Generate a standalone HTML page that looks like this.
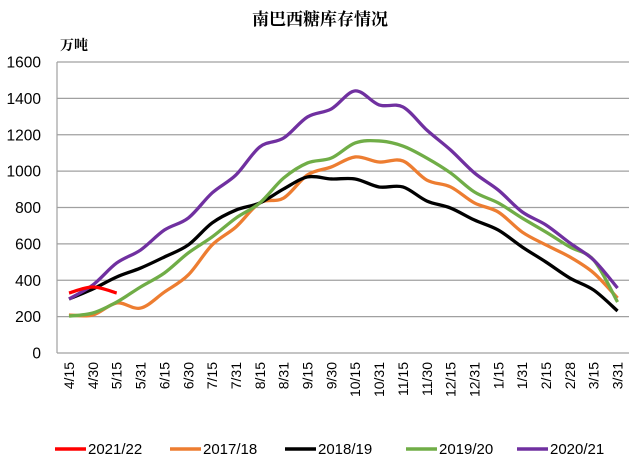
<!DOCTYPE html>
<html><head><meta charset="utf-8"><style>
body{margin:0;background:#fff;}
svg{display:block;font-family:"Liberation Sans","Noto Sans CJK SC",sans-serif;}
</style></head><body>
<svg id="s" width="640" height="466" viewBox="0 0 640 466">
<text x="320" y="25" text-anchor="middle" font-size="17" font-weight="bold" font-family="'Noto Serif CJK SC','Noto Sans CJK SC',serif">南巴西糖库存情况</text>
<text x="60" y="50" font-size="14" font-weight="bold" font-family="'Noto Serif CJK SC','Noto Sans CJK SC',serif">万吨</text>
<g id="g"></g>
</svg>
<script>
var g=document.getElementById('g'),h='';
var L=57,R=629,T=62,B=353;
function Y(v){return B-(v/1600)*(B-T);}
function X(i){return 69+i*23.85;}
for(var k=0;k<=8;k++){var y=Y(k*200);
 h+='<line x1="'+L+'" x2="'+R+'" y1="'+y+'" y2="'+y+'" stroke="#a0a0a0" stroke-width="1.2"/>';
 h+='<text x="41" y="'+(y+5.5)+'" text-anchor="end" font-size="15.5">'+(k*200)+'</text>';}
h+='<line x1="'+L+'" x2="'+L+'" y1="'+T+'" y2="'+B+'" stroke="#a0a0a0" stroke-width="1.2"/>';
var lab=["4/15","4/30","5/15","5/31","6/15","6/30","7/15","7/31","8/15","8/31","9/15","9/30","10/15","10/31","11/15","11/30","12/15","12/31","1/15","1/31","2/15","2/28","3/15","3/31"];
lab.forEach(function(t,i){var x=X(i)+5;h+='<text transform="translate('+x+',362) rotate(-90)" text-anchor="end" font-size="14">'+t+'</text>';});
function path(d){var p=d.map(function(v,i){return [X(i),Y(v)];});var s='M'+p[0][0]+','+p[0][1];
 for(var i=0;i<p.length-1;i++){var p0=p[i-1]||p[i],p1=p[i],p2=p[i+1],p3=p[i+2]||p2;
  s+=' C'+(p1[0]+(p2[0]-p0[0])/6)+','+(p1[1]+(p2[1]-p0[1])/6)+' '+(p2[0]-(p3[0]-p1[0])/6)+','+(p2[1]-(p3[1]-p1[1])/6)+' '+p2[0]+','+p2[1];}
 return s;}
var S=[
["#ed7d31",[209,209,275,247,335,429,594,693,825,852,979,1023,1078,1050,1056,951,913,825,775,665,594,528,440,302]],
["#000",[297,352,418,467,528,594,715,786,825,902,968,957,957,913,913,836,797,731,676,583,500,412,346,231]],
["#70ad47",[203,220,280,363,440,550,638,742,825,962,1045,1072,1155,1166,1138,1072,990,885,825,742,665,583,511,280]],
["#7030a0",[297,374,495,566,676,742,880,979,1133,1182,1298,1342,1441,1364,1353,1226,1116,990,896,776,704,605,511,357]],
["#ff0000",[330,363,330]]];
S.forEach(function(s){h+='<path d="'+path(s[1])+'" fill="none" stroke="'+s[0]+'" stroke-width="3.3" stroke-linejoin="round"/>';});
var lg=[["#ff0000","2021/22",55],["#ed7d31","2017/18",170],["#000","2018/19",285],["#70ad47","2019/20",406],["#7030a0","2020/21",517]];
lg.forEach(function(l){h+='<line x1="'+l[2]+'" x2="'+(l[2]+31)+'" y1="449" y2="449" stroke="'+l[0]+'" stroke-width="3.5"/>';
 h+='<text x="'+(l[2]+33)+'" y="454" font-size="15">'+l[1]+'</text>';});
g.innerHTML=h;
</script>
</body></html>
